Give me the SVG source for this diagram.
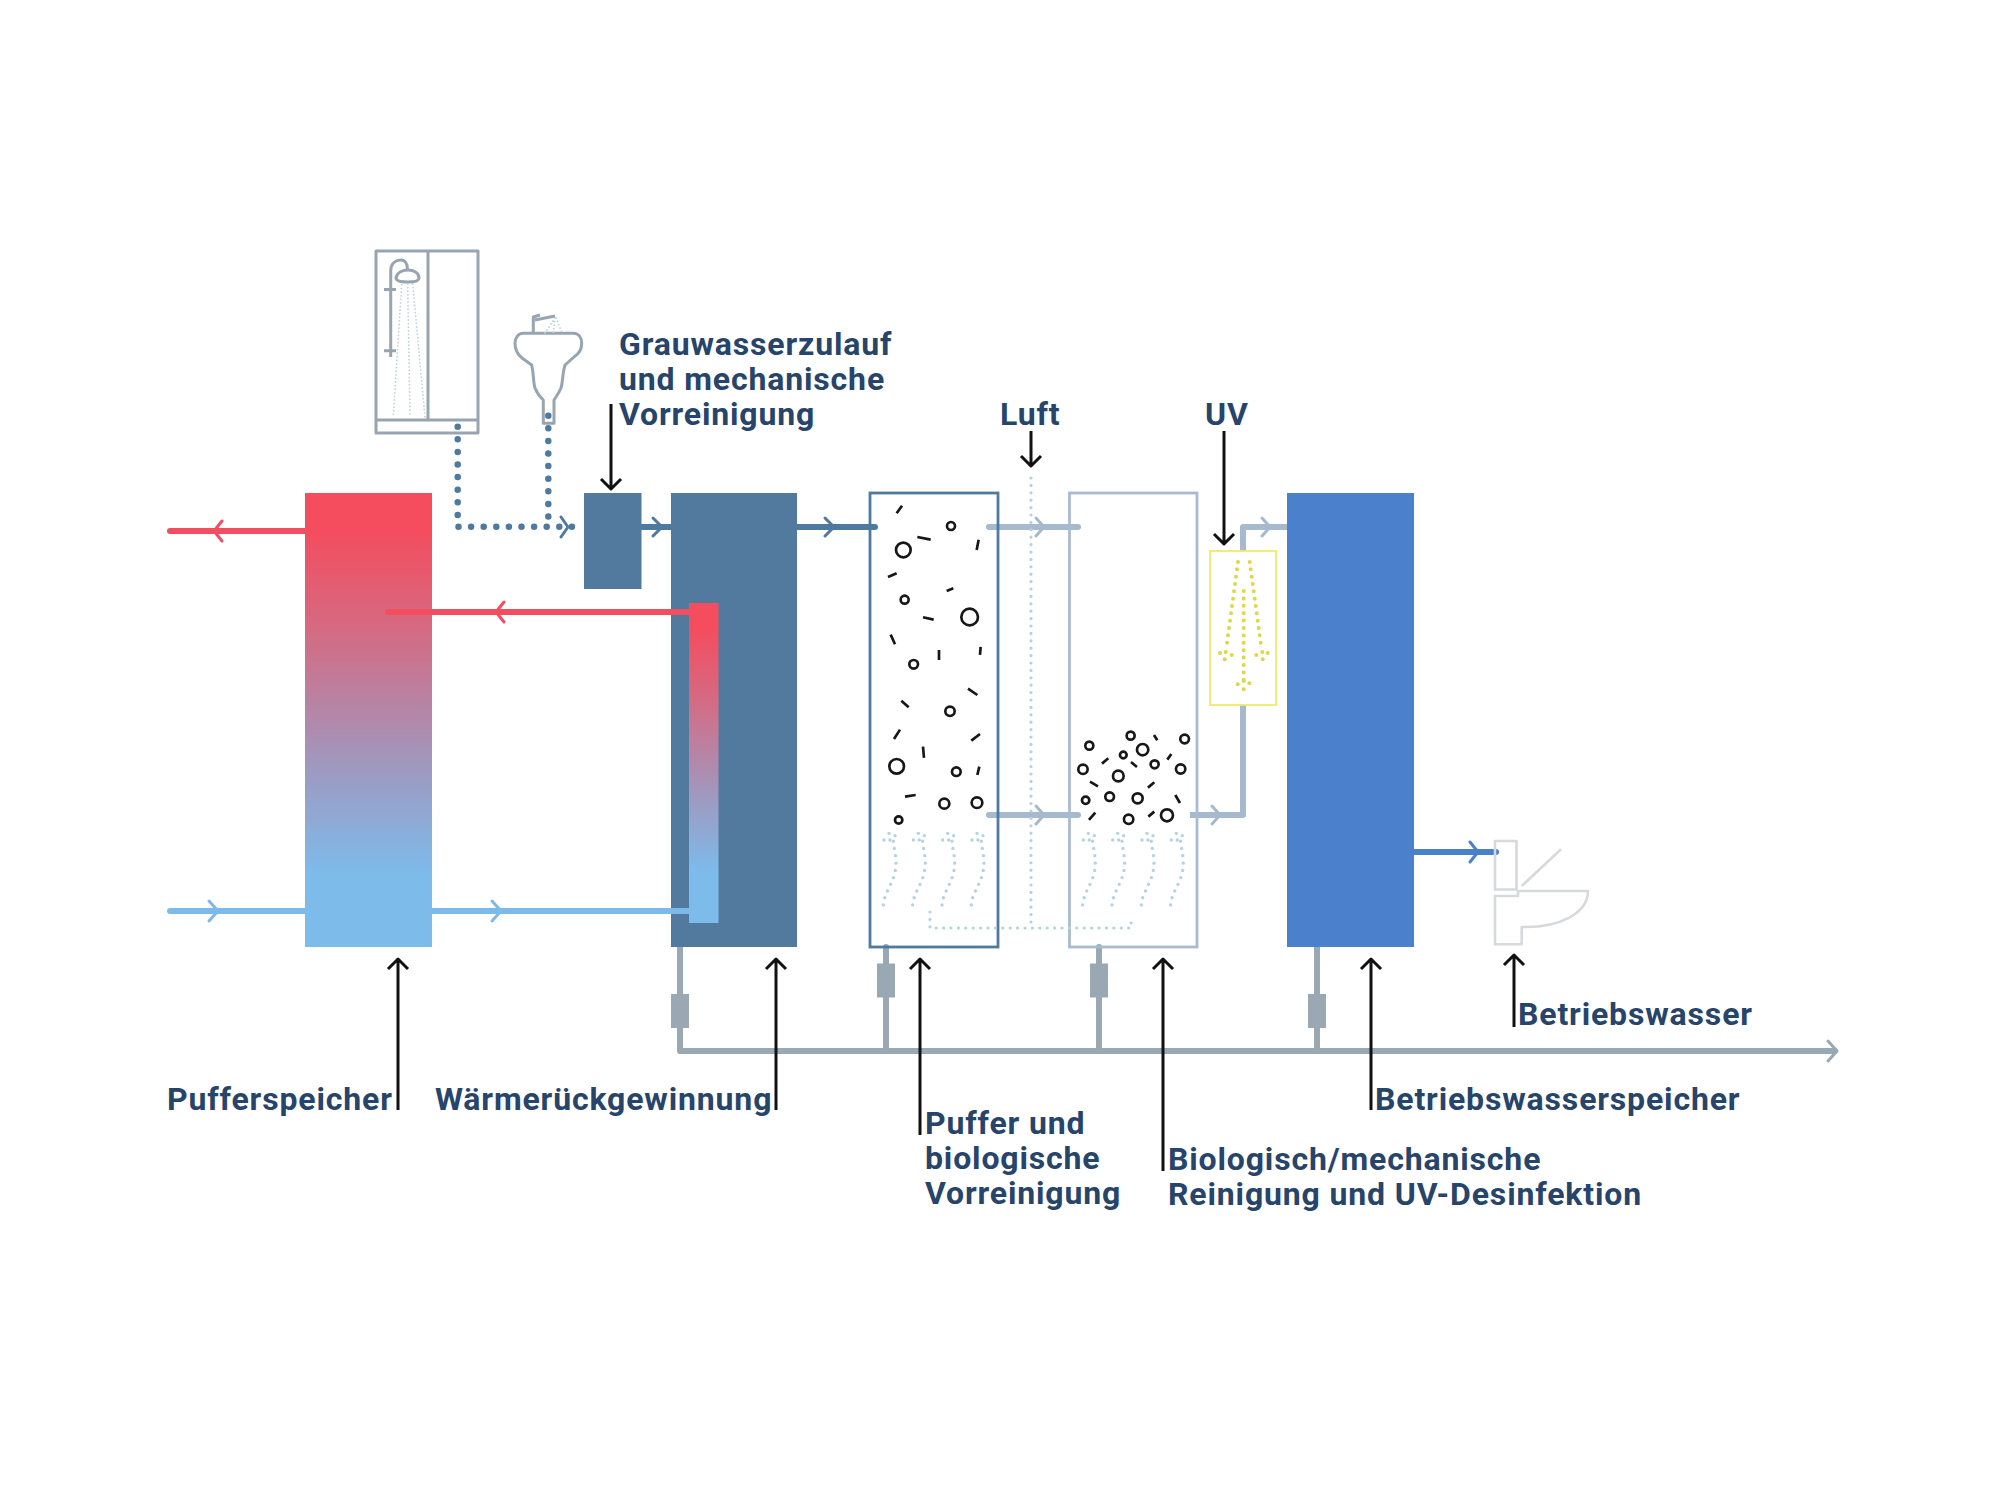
<svg xmlns="http://www.w3.org/2000/svg" xmlns:xlink="http://www.w3.org/1999/xlink" width="2000" height="1500" viewBox="0 0 2000 1500">
<style>
.lbl{font-family:"Roboto","Liberation Sans",sans-serif;font-weight:700;font-size:32px;letter-spacing:.85px;fill:#27446b}
.pipe{fill:none;stroke-width:6;stroke-linecap:round;stroke-linejoin:round}
.chev{fill:none;stroke-width:3;stroke-linecap:round;stroke-linejoin:round}
.red{stroke:#f34d60}.sky{stroke:#7dbaea}.steel{stroke:#4f7a9f}.pale{stroke:#a6b9cf}.grey{stroke:#99a8b3}.blue{stroke:#4a80cc}
.lead{fill:none;stroke:#111;stroke-width:3;stroke-linejoin:round}
.outline{fill:none;stroke:#98a5b0;stroke-width:3;stroke-linejoin:round}
.spray{fill:none;stroke:#bcd2e0;stroke-width:1.8;stroke-linecap:round;stroke-dasharray:0 3.6}
.drain{fill:none;stroke:#4f7a9f;stroke-width:6.5;stroke-linecap:round;stroke-dasharray:0 12.6}
.air{fill:none;stroke:#b5d2e0;stroke-width:3.2;stroke-linecap:round;stroke-dasharray:0 7.4}
.uvd{fill:none;stroke:#dcd84a;stroke-width:4;stroke-linecap:round;stroke-dasharray:0 7.4}
.toilet{fill:none;stroke:#d6dadd;stroke-width:2.6;stroke-linejoin:round}
.part circle{fill:none;stroke:#171717;stroke-width:8}
.part path{fill:none;stroke:#171717;stroke-width:8;stroke-linecap:butt}
.valve{fill:#99a8b3}
</style>
<defs>
<linearGradient id="heat" x1="0" y1="0" x2="0" y2="1">
<stop offset=".08" stop-color="#f54c5e"/><stop offset=".3" stop-color="#d56a82"/><stop offset=".6" stop-color="#a098bf"/><stop offset=".84" stop-color="#7dbbeb"/>
</linearGradient>
<g id="rise" fill="#b5d2e0">
<path d="M70 1275C74 1230 108 1205 108 1148C108 1122 100 1100 100 1082" fill="none" stroke="#b5d2e0" stroke-width="10" stroke-linecap="round" stroke-dasharray="0 22"/>
<circle cx="72" cy="1080" r="5"/><circle cx="87" cy="1060" r="5"/><circle cx="105" cy="1067" r="5"/><circle cx="90" cy="1080" r="5"/>
</g>
</defs>
<rect width="2000" height="1500" fill="#fff"/>

<g id="connectors">
<path class="pipe red" d="M170 531H305"/><path class="chev red" d="M222 521L214 531L222 541"/>
<path class="pipe sky" d="M170 911H305"/><path class="chev sky" d="M209 901L218 911L209 921"/>
<path class="pipe sky" d="M432 911H690"/><path class="chev sky" d="M492 901L501 911L492 921"/>
<path class="pipe steel" d="M642 527H671"/><path class="chev steel" d="M653 518L662 527L653 536"/>
<path class="pipe steel" d="M797 527H875"/><path class="chev steel" d="M825 518L834 527L825 536"/>
<path class="pipe pale" d="M989 527H1078"/><path class="chev pale" d="M1036 518L1044 527L1036 536"/>
<path class="pipe pale" d="M989 815H1078"/><path class="chev pale" d="M1036 806L1044 815L1036 824"/>
<path class="pipe pale" d="M1190 815H1243V527H1287" style="stroke-linecap:butt"/><path class="chev pale" d="M1212 806L1220 815L1212 824"/><path class="chev pale" d="M1262 518L1270 527L1262 536"/>
<path class="pipe blue" d="M1413 852H1496"/><path class="chev blue" d="M1470 842L1478 852L1470 862"/>
<path class="pipe grey" d="M680 947V1051H1835"/><path class="pipe grey" d="M886 947V1051"/><path class="pipe grey" d="M1099 947V1051"/><path class="pipe grey" d="M1317 947V1051"/>
<path class="chev grey" d="M1828 1041L1837 1051L1828 1061"/>
<path class="drain" d="M457.7 426.7V526.7H574"/><path class="drain" d="M548.3 415.7V526.7"/>
<path class="chev steel" d="M561 517L568 527L561 537"/>
</g>

<g id="pufferspeicher"><rect x="305" y="493" width="127" height="454" fill="url(#heat)"/></g>
<g id="puffer-return"><path class="pipe red" d="M388 612H690"/><path class="chev red" d="M504 602L496 612L504 622"/></g>
<g id="vorreinigung-mech"><rect x="584" y="493" width="57.500" height="96" fill="#527a9f"/></g>
<g id="waermerueckgewinnung">
<rect x="671" y="493" width="126" height="454" fill="#527a9f"/>
<path class="pipe red" d="M640 612H689"/>
<path class="pipe sky" d="M671 911H689"/>
<rect x="689" y="603" width="29.500" height="320" fill="url(#heat)"/>
</g>

<g id="dusche">
<rect class="outline" x="376" y="251" width="102" height="182"/>
<path class="outline" d="M428 251V420M376 420H478"/>
<path class="outline" d="M390.700 357V271C390.700 263 396 260 401 260C406 260 407.500 265 407.500 270M384 289.500H396M384 350.800H396"/>
<path class="outline" d="M396 278C397 272 403 270 408 270C414 270 419 273 419 278C419 281 415 282 408 282C401 282 396 281 396 278Z"/>
<path class="spray" d="M401.700 285L393.300 417M407.700 284L410 417M412.700 284L425 417"/>
</g>
<g id="waschbecken">
<path class="outline" d="M523.300 333.300H573.300C579 333.300 581.700 338 581.700 343.300C581.700 349 579 354 574 357L565 365C562 375 563 382 561 388C559 393 556 397 554 400V423.300H543.300V400C540 397 537 393 535 388C533 382 534 375 531.700 365L522 358C517 354 515 349 515 343.300C515 338 518 333.300 523.300 333.300Z"/>
<path class="outline" d="M533.300 333V317L540 315M535 320L555 316"/>
<path class="spray" d="M555 318L545 333M555 318L553.300 333M556 318L562 333"/>
</g>

<g id="puffer-vorreinigung">
<rect x="870" y="493" width="128" height="454" fill="none" stroke="#4f7a9f" stroke-width="2.800"/>
<g class="part" transform="translate(860 480) scale(.3333)">
<circle cx="273" cy="138" r="12"/><circle cx="130" cy="210" r="22"/><circle cx="134" cy="359" r="12"/><circle cx="329" cy="411" r="25"/><circle cx="161" cy="553" r="13"/><circle cx="270" cy="694" r="14"/><circle cx="110" cy="859" r="22"/><circle cx="289" cy="875" r="13"/><circle cx="253" cy="971" r="15"/><circle cx="351" cy="968" r="16"/><circle cx="116" cy="1020" r="11"/>
<path d="M110 100L126 77M172 171L212 179M350 210L356 179M84 291L110 280M260 333L280 325M189 412L221 419M92 464L105 493M237 510V540M360 525L362 501M324 626L352 645M124 662L146 682M102 777L120 749M334 782L360 762M189 800L192 834M352 885L358 860M135 950L167 945"/>
</g>
<g transform="translate(860 480) scale(.3333)">
<use xlink:href="#rise" href="#rise"/><use xlink:href="#rise" href="#rise" x="88"/><use xlink:href="#rise" href="#rise" x="176"/><use xlink:href="#rise" href="#rise" x="264"/>
</g>
</g>

<g id="biologisch-mechanisch">
<rect x="1069.500" y="493" width="127.500" height="454" fill="none" stroke="#a9bbd0" stroke-width="2.800"/>
<g class="part" transform="translate(860 480) scale(.3333)">
<circle cx="688" cy="797" r="12"/><circle cx="812" cy="767" r="12"/><circle cx="848" cy="809" r="17"/><circle cx="974" cy="777" r="13"/><circle cx="790" cy="825" r="10"/><circle cx="884" cy="853" r="12"/><circle cx="669" cy="868" r="14"/><circle cx="962" cy="867" r="14"/><circle cx="775" cy="888" r="16"/><circle cx="677" cy="961" r="11"/><circle cx="749" cy="950" r="13"/><circle cx="833" cy="955" r="15"/><circle cx="806" cy="1018" r="14"/><circle cx="921" cy="1006" r="18"/>
<path d="M882 765L892 781M726 851L745 835M813 846L831 861M922 839L934 822M690 905L714 919M864 923L883 907M946 945L960 969M687 1020L706 998M865 1010L883 995"/>
</g>
<g transform="translate(860 480) scale(.3333)">
<use xlink:href="#rise" href="#rise" x="598"/><use xlink:href="#rise" href="#rise" x="686"/><use xlink:href="#rise" href="#rise" x="774"/><use xlink:href="#rise" href="#rise" x="862"/>
</g>
</g>

<g id="luftzufuhr">
<path class="air" d="M1031 478V922"/>
<path class="air" d="M930 912V928H1131V920"/>
</g>

<g id="uv-einheit">
<rect x="1210" y="551" width="66" height="154" fill="#fff" stroke="#f0e96a" stroke-width="1.800"/>
<path class="uvd" d="M1238 562L1226.700 645M1249.700 562L1261 645M1243.700 591V680"/>
<g fill="#dcd84a">
<circle cx="1220" cy="653" r="2"/><circle cx="1225.700" cy="652" r="2"/><circle cx="1231.700" cy="655" r="2"/><circle cx="1224.700" cy="659.300" r="2"/>
<circle cx="1256.300" cy="655" r="2"/><circle cx="1262.300" cy="652" r="2"/><circle cx="1267.700" cy="653" r="2"/><circle cx="1262.700" cy="659.300" r="2"/>
<circle cx="1237.700" cy="684.300" r="2"/><circle cx="1243.700" cy="681" r="2"/><circle cx="1249.300" cy="683.300" r="2"/><circle cx="1243.700" cy="689.300" r="2"/>
</g>
</g>

<g id="betriebswasserspeicher"><rect x="1287" y="493" width="127" height="454" fill="#4a80cc"/></g>

<g id="toilette">
<rect class="toilet" x="1495" y="841" width="21.500" height="48.500"/>
<path class="toilet" d="M1521.700 886L1561 849.300"/>
<path class="toilet" d="M1495 896H1518V891H1588C1588 913 1560 928 1521.700 927V944.300H1495Z"/>
</g>

<g id="ventile">
<rect class="valve" x="671" y="994" width="18" height="34"/>
<rect class="valve" x="877" y="963.500" width="18" height="34"/>
<rect class="valve" x="1090" y="963.500" width="18" height="34"/>
<rect class="valve" x="1308" y="994" width="18" height="34"/>
</g>

<g id="hinweispfeile">
<path class="lead" d="M611 404V488M601 479L611 489L621 479"/>
<path class="lead" d="M1031 431V465M1021 456L1031 466L1041 456"/>
<path class="lead" d="M1224 431V543M1214 534L1224 544L1234 534"/>
<path class="lead" d="M398 1110V960M388 969L398 959L408 969"/>
<path class="lead" d="M776 1110V960M766 969L776 959L786 969"/>
<path class="lead" d="M920 1135V960M910 969L920 959L930 969"/>
<path class="lead" d="M1163 1171V960M1153 969L1163 959L1173 969"/>
<path class="lead" d="M1371 1110V960M1361 969L1371 959L1381 969"/>
<path class="lead" d="M1514 1027V956M1504 965L1514 955L1524 965"/>
</g>

<g id="beschriftung">
<text class="lbl" x="619" y="355">Grauwasserzulauf</text>
<text class="lbl" x="619" y="390">und mechanische</text>
<text class="lbl" x="619" y="425">Vorreinigung</text>
<text class="lbl" x="1000" y="425">Luft</text>
<text class="lbl" x="1205" y="425">UV</text>
<text class="lbl" x="167" y="1110">Pufferspeicher</text>
<text class="lbl" x="435" y="1110">Wärmerückgewinnung</text>
<text class="lbl" x="925" y="1134">Puffer und</text>
<text class="lbl" x="925" y="1169">biologische</text>
<text class="lbl" x="925" y="1204">Vorreinigung</text>
<text class="lbl" x="1168" y="1170">Biologisch/mechanische</text>
<text class="lbl" x="1168" y="1205">Reinigung und UV-Desinfektion</text>
<text class="lbl" x="1375" y="1110">Betriebswasserspeicher</text>
<text class="lbl" x="1518" y="1025">Betriebswasser</text>
</g>
</svg>
